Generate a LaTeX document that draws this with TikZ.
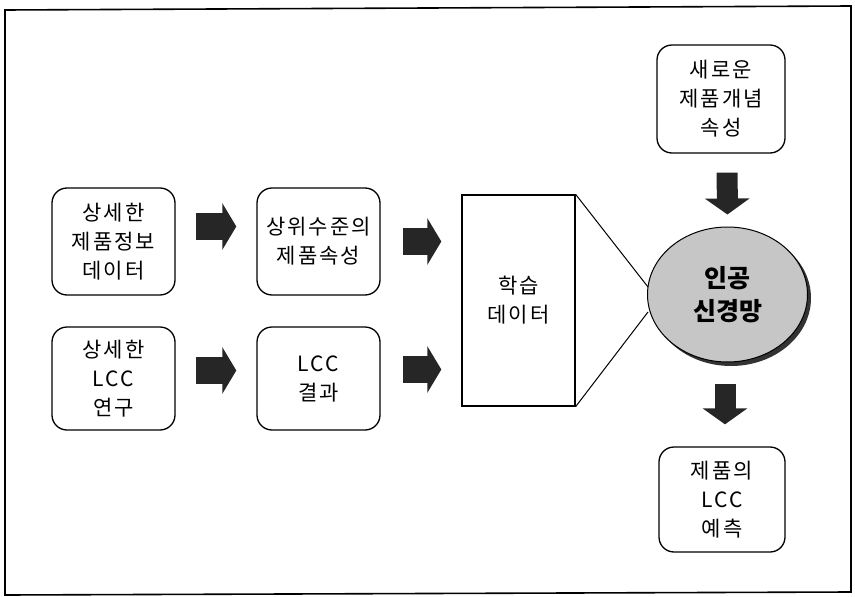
\documentclass[tikz,border=0pt]{standalone}
\usepackage{fontspec}
\setmainfont{Noto Sans CJK KR}[LetterSpace=10]
\newfontfamily\krtight{Noto Sans CJK KR}
\usetikzlibrary{arrows.meta,shapes.geometric}
\tikzset{
  box/.style={draw, line width=1.3pt, rounded corners=15pt, align=center,
    font=\fontsize{21}{29}\selectfont},
  harrow/.style={draw=black!85, line width=27pt,
    -{Triangle[length=14pt,width=46pt]}},
  varrow/.style={draw=black!85, line width=21pt,
    -{Triangle[length=16pt,width=44pt]}},
  thin/.style={line width=1pt}
}
\begin{document}
\begin{tikzpicture}[x=1pt,y=-1pt]
\useasboundingbox (0,0) rectangle (855,597);
% frame
\draw[line width=1.6pt] (5,10) -- (851,6) -- (851,592) -- (5,595) -- cycle;
% boxes
\node[box, minimum width=123pt, minimum height=107pt] (a) at (113.5,241.5) {상세한\\제품정보\\데이터};
\node[box, minimum width=123pt, minimum height=107pt] (b) at (318.5,241.5) {상위수준의\\제품속성};
\node[box, minimum width=123pt, minimum height=103pt] (c) at (113.5,378.5) {상세한\\LCC\\연구};
\node[box, minimum width=123pt, minimum height=103pt] (d) at (318.5,378.5) {LCC\\결과};
\node[draw, line width=1.3pt, minimum width=113pt, minimum height=211pt, align=center,
  font=\fontsize{21}{29}\selectfont] (r) at (518.5,300.5) {학습\\데이터};
\node[box, minimum width=128pt, minimum height=108pt] (t) at (721,99) {새로운\\제품개념\\속성};
\node[box, minimum width=126pt, minimum height=105pt] (p) at (722,499.5) {제품의\\LCC\\예측};
% neural net ellipse with shadow
\fill[black!80] (731,298) ellipse [x radius=80pt, y radius=68pt];
\node[draw, line width=1pt, fill=gray!45, ellipse, minimum width=160pt, minimum height=135pt,
  inner sep=0pt, font=\krtight\bfseries\fontsize{25}{33}\selectfont, align=center] (n) at (727.5,294.5) {인공\\신경망};
% lines from training data to network
\coordinate (n1) at (648,287);
\coordinate (n2) at (648,312);
\draw[thin] (r.north east) -- (n1);
\draw[thin] (r.south east) -- (n2);
% block arrows
\draw[harrow, shorten <=20pt, shorten >=20pt] ([yshift=15pt]a.east) -- ([yshift=15pt]b.west);
\draw[harrow, shorten <=22pt, shorten >=20pt] (b.east) -- (b.east -| r.west);
\draw[harrow, shorten <=20pt, shorten >=20pt] ([yshift=8pt]c.east) -- ([yshift=8pt]d.west);
\draw[harrow, shorten <=22pt, shorten >=20pt] ([yshift=9pt]d.east) -- ([yshift=9pt]d.east -| r.west);
\draw[varrow, shorten <=19pt, shorten >=12pt] ([xshift=6pt]t.south) -- (n.north);
\draw[varrow, shorten <=21pt, shorten >=22pt] (n.south -| 725,0) -- (p.north -| 725,0);
\end{tikzpicture}
\end{document}
